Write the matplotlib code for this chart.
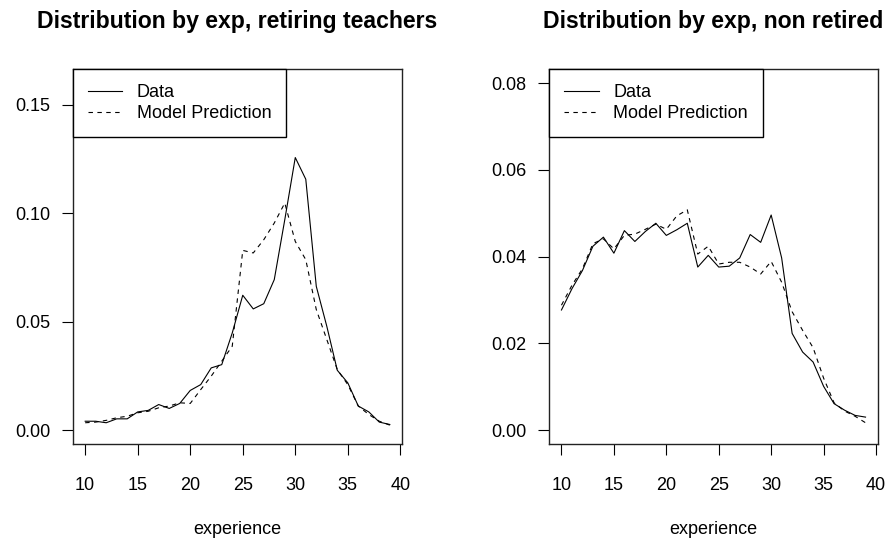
import matplotlib
matplotlib.use("Agg")
import matplotlib.pyplot as plt

plt.rcParams['font.family'] = ['Liberation Sans', 'DejaVu Sans']

experience = list(range(10, 40))

ret_data = [0.0041, 0.0041, 0.0034, 0.0052, 0.0052, 0.0084, 0.0091, 0.0118, 0.0100, 0.0123,
            0.0183, 0.0210, 0.0287, 0.0302, 0.0448, 0.0622, 0.0559, 0.0583, 0.0694, 0.0970,
            0.1257, 0.1157, 0.0663, 0.0479, 0.0276, 0.0218, 0.0111, 0.0084, 0.0037, 0.0026]
ret_model = [0.0034, 0.0037, 0.0045, 0.0057, 0.0064, 0.0080, 0.0087, 0.0103, 0.0111, 0.0126,
             0.0123, 0.0187, 0.0249, 0.0318, 0.0387, 0.0829, 0.0817, 0.0878, 0.0955, 0.1047,
             0.0870, 0.0786, 0.0556, 0.0418, 0.0279, 0.0210, 0.0111, 0.0072, 0.0041, 0.0023]

non_data = [0.0277, 0.0326, 0.0368, 0.0424, 0.0445, 0.0408, 0.0460, 0.0435, 0.0458, 0.0477,
            0.0449, 0.0462, 0.0477, 0.0376, 0.0403, 0.0376, 0.0378, 0.0397, 0.0451, 0.0433,
            0.0496, 0.0397, 0.0223, 0.0180, 0.0157, 0.0101, 0.0061, 0.0046, 0.0034, 0.0030]
non_model = [0.0288, 0.0334, 0.0372, 0.0430, 0.0441, 0.0418, 0.0449, 0.0452, 0.0463, 0.0475,
             0.0463, 0.0494, 0.0508, 0.0406, 0.0424, 0.0383, 0.0387, 0.0387, 0.0376, 0.0360,
             0.0389, 0.0341, 0.0273, 0.0230, 0.0190, 0.0120, 0.0063, 0.0044, 0.0032, 0.0017]

titles = ["Distribution by exp, retiring teachers", "Distribution by exp, non retired"]
xticks = [10, 15, 20, 25, 30, 35, 40]
yticks_left = [0.00, 0.05, 0.10, 0.15]
yticks_right = [0.00, 0.02, 0.04, 0.06, 0.08]
ylims = [(0, 0.16), (0, 0.08)]
legend_labels = ["Data", "Model Prediction"]
xlabel = "experience"

W, H = 888, 542
fig = plt.figure(figsize=(W / 100, H / 100), dpi=100)

ax_px = [(73, 69.3, 402, 444), (549.3, 69.3, 877.7, 444)]
series = [(ret_data, ret_model), (non_data, non_model)]
ytick_sets = [yticks_left, yticks_right]

FS = 13
for i in range(2):
    x0, y0, x1, y1 = ax_px[i]
    ax = fig.add_axes([x0 / W, 1 - y1 / H, (x1 - x0) / W, (y1 - y0) / H])
    d, m = series[i]
    ax.plot(experience, d, color='black', lw=0.8, label=legend_labels[0])
    ax.plot(experience, m, color='black', lw=0.8, ls=(0, (4, 4)), label=legend_labels[1])
    xr = experience[-1] - experience[0]
    ax.set_xlim(experience[0] - 0.04 * xr, experience[-1] + 0.04 * xr)
    lo, hi = ylims[i]
    ax.set_ylim(lo - 0.04 * (hi - lo), hi + 0.04 * (hi - lo))
    ax.set_xticks(xticks)
    ax.set_xticklabels([str(t) for t in xticks])
    yt = ytick_sets[i]
    ax.set_yticks(yt)
    ax.set_yticklabels([f"{v:.2f}" for v in yt])
    ax.tick_params(axis='both', direction='out', length=8, width=0.8, labelsize=FS,
                   colors='black')
    ax.tick_params(axis='y', pad=8.5)
    ax.tick_params(axis='x', pad=15.5)
    for s in ax.spines.values():
        s.set_linewidth(1.0)
        s.set_color('#222222')
    ax.text(0.5, (y1 - 21.7) / (y1 - y0), titles[i], transform=ax.transAxes,
            ha='center', va='center', fontsize=16.6, fontweight='bold')
    ax.set_xlabel(xlabel, fontsize=FS)
    ax.xaxis.set_label_coords(0.5, -(529 - y1) / (y1 - y0))
    ax.xaxis.label.set_va('center')
    leg = ax.legend(loc='upper left', borderaxespad=0, fancybox=False, edgecolor='black',
                    framealpha=1, fontsize=FS, handlelength=1.9, handletextpad=0.8,
                    borderpad=0.83, labelspacing=0.2)
    leg.get_frame().set_linewidth(1.0)

fig.savefig("out.png", dpi=100)
